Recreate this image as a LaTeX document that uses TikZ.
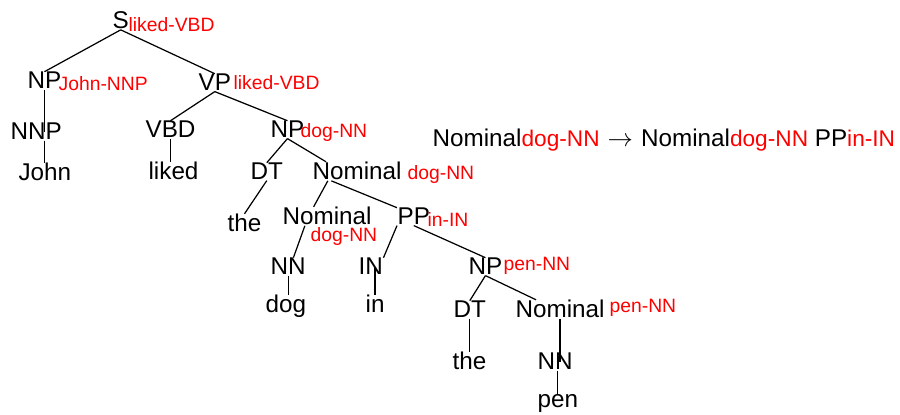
\documentclass[tikz,border=0pt]{standalone}
\usepackage{fontspec}
\setmainfont{Liberation Sans}
\newcommand{\headword}[1]{{\color{red}\fontsize{12.9}{15}\selectfont #1}}
\begin{document}
\begin{tikzpicture}[x=0.02cm, y=-0.02cm, line width=0.7pt,
    cat/.style={anchor=base west, inner sep=0pt, font=\fontsize{13.8}{16}\selectfont},
    head/.style={anchor=base west, inner sep=0pt, text=red, font=\fontsize{11}{13}\selectfont}]
    \useasboundingbox (0,0) rectangle (900,415);
    % categories and words (left end, baseline)
    \node[cat] (s) at (112,29) {S};
    \node[cat] (np1) at (27,89) {NP};
    \node[cat] (vp) at (198,91) {VP};
    \node[cat] (nnp) at (10,140) {NNP};
    \node[cat] (john) at (18,181) {John};
    \node[cat] (vbd) at (145,138) {VBD};
    \node[cat] (liked) at (148,180) {liked};
    \node[cat] (np2) at (270,138) {NP};
    \node[cat] (dt1) at (250,180) {DT};
    \node[cat] (nom1) at (312,180) {Nominal};
    \node[cat] (the1) at (227,232) {the};
    \node[cat] (nom2) at (282,225) {Nominal};
    \node[cat] (pp) at (397,225) {PP};
    \node[cat] (nn1) at (270,275) {NN};
    \node[cat] (in1) at (358,275) {IN};
    \node[cat] (np3) at (468,275) {NP};
    \node[cat] (dog) at (265,313) {dog};
    \node[cat] (inw) at (365,313) {in};
    \node[cat] (dt2) at (453,318) {DT};
    \node[cat] (nom3) at (515,318) {Nominal};
    \node[cat] (the2) at (452,370) {the};
    \node[cat] (nn2) at (537,370) {NN};
    \node[cat] (pen) at (537,408) {pen};
    % head annotations
    \node[head] (hs) at (128,32) {liked-VBD};
    \node[head] (hnp1) at (58,91) {John-NNP};
    \node[head] (hvp) at (233,90) {liked-VBD};
    \node[head] (hnp2) at (300,138) {dog-NN};
    \node[head] (hnom1) at (407,180) {dog-NN};
    \node[head] (hnom2) at (310,242) {dog-NN};
    \node[head] (hpp) at (427,227) {in-IN};
    \node[head] (hnp3) at (503,271) {pen-NN};
    \node[head] (hnom3) at (609,313) {pen-NN};
    % the lexicalized rule
    \node[cat] (rule) at (432,147) {Nominal\headword{dog-NN}\,\,$\rightarrow$\,\,Nominal\headword{dog-NN} PP\headword{in-IN}};
    % branches
    \draw (s.south) -- (np1.north);
    \draw (s.south) -- (vp.north);
    \draw (np1.south) -- (np1.south |- nnp.center);
    \draw (np1.south |- nnp.south) -- (np1.south |- john.north);
    \draw (vp.south) -- (vbd.north);
    \draw (vbd.south) -- (vbd.south |- liked.north);
    \draw (vp.south) -- (np2.north);
    \draw (np2.south) -- (dt1.north);
    \draw (np2.south) -- ([xshift=8pt]nom1.north west);
    \draw (dt1.south) -- (the1.north);
    \draw ([xshift=9pt]nom1.south west) -- ([xshift=18pt]nom2.north west);
    \draw ([xshift=11pt]nom1.south west) -- (pp.north west);
    \draw ([xshift=13pt]nom2.south west) -- ([xshift=3pt]nn1.north);
    \draw (pp.south west) -- (in1.north east);
    \draw (pp.south) -- (np3.north);
    \draw (nn1.south) -- (nn1.south |- dog.north);
    \draw (inw.north |- in1.center) -- (inw.north);
    \draw (np3.south) -- (dt2.north);
    \draw (np3.south) -- ([xshift=12pt]nom3.north west);
    \draw (dt2.south) -- (dt2.south |- the2.north);
    \draw (nom3.south) -- (nom3.south |- nn2.center);
    \draw (pen.north |- nn2.south) -- (pen.north);
\end{tikzpicture}
\end{document}
